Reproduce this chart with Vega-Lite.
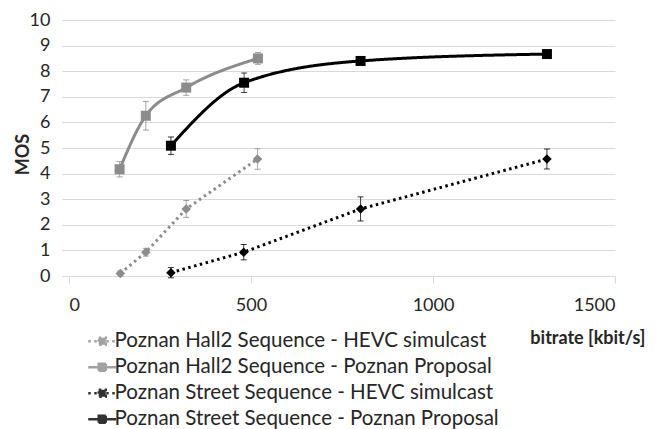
{
  "$schema": "https://vega.github.io/schema/vega-lite/v6.json",
  "width": 546,
  "height": 256,
  "autosize": {"type": "none"},
  "padding": {"left": 69, "top": 20, "right": 44, "bottom": 153},
  "background": "white",
  "config": {
    "font": "Lato",
    "view": {"stroke": null},
    "axis": {"labelColor": "#262626", "titleColor": "#262626", "labelFont": "Lato", "titleFont": "Lato"}
  },
  "data": {
    "values": [
      {"series": "Poznan Hall2 Sequence - HEVC simulcast", "bitrate": 141, "mos": 0.1, "err": 0.1},
      {"series": "Poznan Hall2 Sequence - HEVC simulcast", "bitrate": 211, "mos": 0.93, "err": 0.15},
      {"series": "Poznan Hall2 Sequence - HEVC simulcast", "bitrate": 322, "mos": 2.62, "err": 0.33},
      {"series": "Poznan Hall2 Sequence - HEVC simulcast", "bitrate": 518, "mos": 4.57, "err": 0.4},
      {"series": "Poznan Hall2 Sequence - Poznan Proposal", "bitrate": 139, "mos": 4.17, "err": 0.3},
      {"series": "Poznan Hall2 Sequence - Poznan Proposal", "bitrate": 211, "mos": 6.26, "err": 0.56},
      {"series": "Poznan Hall2 Sequence - Poznan Proposal", "bitrate": 322, "mos": 7.36, "err": 0.3},
      {"series": "Poznan Hall2 Sequence - Poznan Proposal", "bitrate": 519, "mos": 8.5, "err": 0.23},
      {"series": "Poznan Street Sequence - HEVC simulcast", "bitrate": 280, "mos": 0.13, "err": 0.2},
      {"series": "Poznan Street Sequence - HEVC simulcast", "bitrate": 480, "mos": 0.93, "err": 0.3},
      {"series": "Poznan Street Sequence - HEVC simulcast", "bitrate": 801, "mos": 2.62, "err": 0.47},
      {"series": "Poznan Street Sequence - HEVC simulcast", "bitrate": 1313, "mos": 4.57, "err": 0.39},
      {"series": "Poznan Street Sequence - Poznan Proposal", "bitrate": 280, "mos": 5.09, "err": 0.34},
      {"series": "Poznan Street Sequence - Poznan Proposal", "bitrate": 481, "mos": 7.55, "err": 0.38},
      {"series": "Poznan Street Sequence - Poznan Proposal", "bitrate": 801, "mos": 8.4, "err": 0.12},
      {"series": "Poznan Street Sequence - Poznan Proposal", "bitrate": 1313, "mos": 8.67, "err": 0.12}
    ]
  },
  "encoding": {
    "x": {
      "field": "bitrate", "type": "quantitative",
      "scale": {"domain": [0, 1500], "nice": false},
      "axis": {
        "values": [0, 500, 1000, 1500], "grid": false, "format": "d",
        "domainColor": "#d9d9d9", "tickColor": "#d9d9d9", "tickSize": 7,
        "labelFontSize": 18, "labelPadding": 13,
        "title": "bitrate [kbit/s]", "titleFontSize": 18, "titleFontWeight": "bold",
        "titleX": 576, "titleY": 62, "titleAlign": "right", "titleBaseline": "middle"
      }
    },
    "y": {
      "field": "mos", "type": "quantitative",
      "scale": {"domain": [0, 10], "nice": false},
      "axis": {
        "values": [0, 1, 2, 3, 4, 5, 6, 7, 8, 9, 10], "grid": true, "gridColor": "#d9d9d9",
        "domain": false, "tickColor": "#d9d9d9", "tickSize": 7,
        "labelFontSize": 18, "labelPadding": 12,
        "title": "MOS", "titleFontSize": 18, "titleFontWeight": "bold",
        "titleX": -46, "titleY": 134, "titleAlign": "center", "titleBaseline": "middle", "titleAngle": 270
      }
    },
    "color": {
      "field": "series", "type": "nominal",
      "scale": {
        "domain": ["Poznan Hall2 Sequence - HEVC simulcast", "Poznan Hall2 Sequence - Poznan Proposal", "Poznan Street Sequence - HEVC simulcast", "Poznan Street Sequence - Poznan Proposal"],
        "range": ["#8c8c8c", "#8c8c8c", "#000000", "#000000"]
      },
      "legend": {
        "orient": "none", "legendX": 23, "legendY": 311, "title": null,
        "labelFontSize": 20.5, "labelColor": "#262626", "labelFont": "Lato", "labelLimit": 600,
        "symbolType": "M-2,0L2,0M-0.5,-0.5L0.5,-0.5L0.5,0.5L-0.5,0.5Z",
        "symbolSize": 196, "symbolStrokeWidth": 2.5, "rowPadding": 5, "labelOffset": 2
      }
    },
    "strokeDash": {
      "field": "series", "type": "nominal",
      "scale": {
        "domain": ["Poznan Hall2 Sequence - HEVC simulcast", "Poznan Hall2 Sequence - Poznan Proposal", "Poznan Street Sequence - HEVC simulcast", "Poznan Street Sequence - Poznan Proposal"],
        "range": [[2.5, 3.5], [1, 0], [2.5, 3.5], [1, 0]]
      },
      "legend": {
        "orient": "none", "legendX": 23, "legendY": 311, "title": null,
        "labelFontSize": 20.5, "labelColor": "#262626", "labelFont": "Lato", "labelLimit": 600,
        "symbolType": "M-2,0L2,0M-0.5,-0.5L0.5,-0.5L0.5,0.5L-0.5,0.5Z",
        "symbolSize": 196, "symbolStrokeWidth": 2.5, "rowPadding": 5, "labelOffset": 2
      }
    }
  },
  "layer": [
    {
      "mark": {"type": "errorbar", "ticks": {"size": 6}, "thickness": 1, "opacity": 0.8},
      "encoding": {"yError": {"field": "err"}, "strokeDash": {"value": [1, 0]}}
    },
    {
      "transform": [{"filter": "indexof(datum.series,'HEVC')>=0"}],
      "mark": {"type": "line", "strokeWidth": 3, "strokeCap": "butt"}
    },
    {
      "transform": [{"filter": "indexof(datum.series,'Proposal')>=0"}],
      "mark": {"type": "line", "strokeWidth": 3, "interpolate": "monotone"}
    },
    {
      "transform": [{"filter": "indexof(datum.series,'HEVC')>=0"}],
      "mark": {"type": "point", "filled": true, "opacity": 1, "shape": "diamond", "size": 90},
      "encoding": {"strokeDash": {"value": [1, 0]}}
    },
    {
      "transform": [{"filter": "indexof(datum.series,'Proposal')>=0"}],
      "mark": {"type": "point", "filled": true, "opacity": 1, "shape": "square", "size": 100},
      "encoding": {"strokeDash": {"value": [1, 0]}}
    }
  ]
}
